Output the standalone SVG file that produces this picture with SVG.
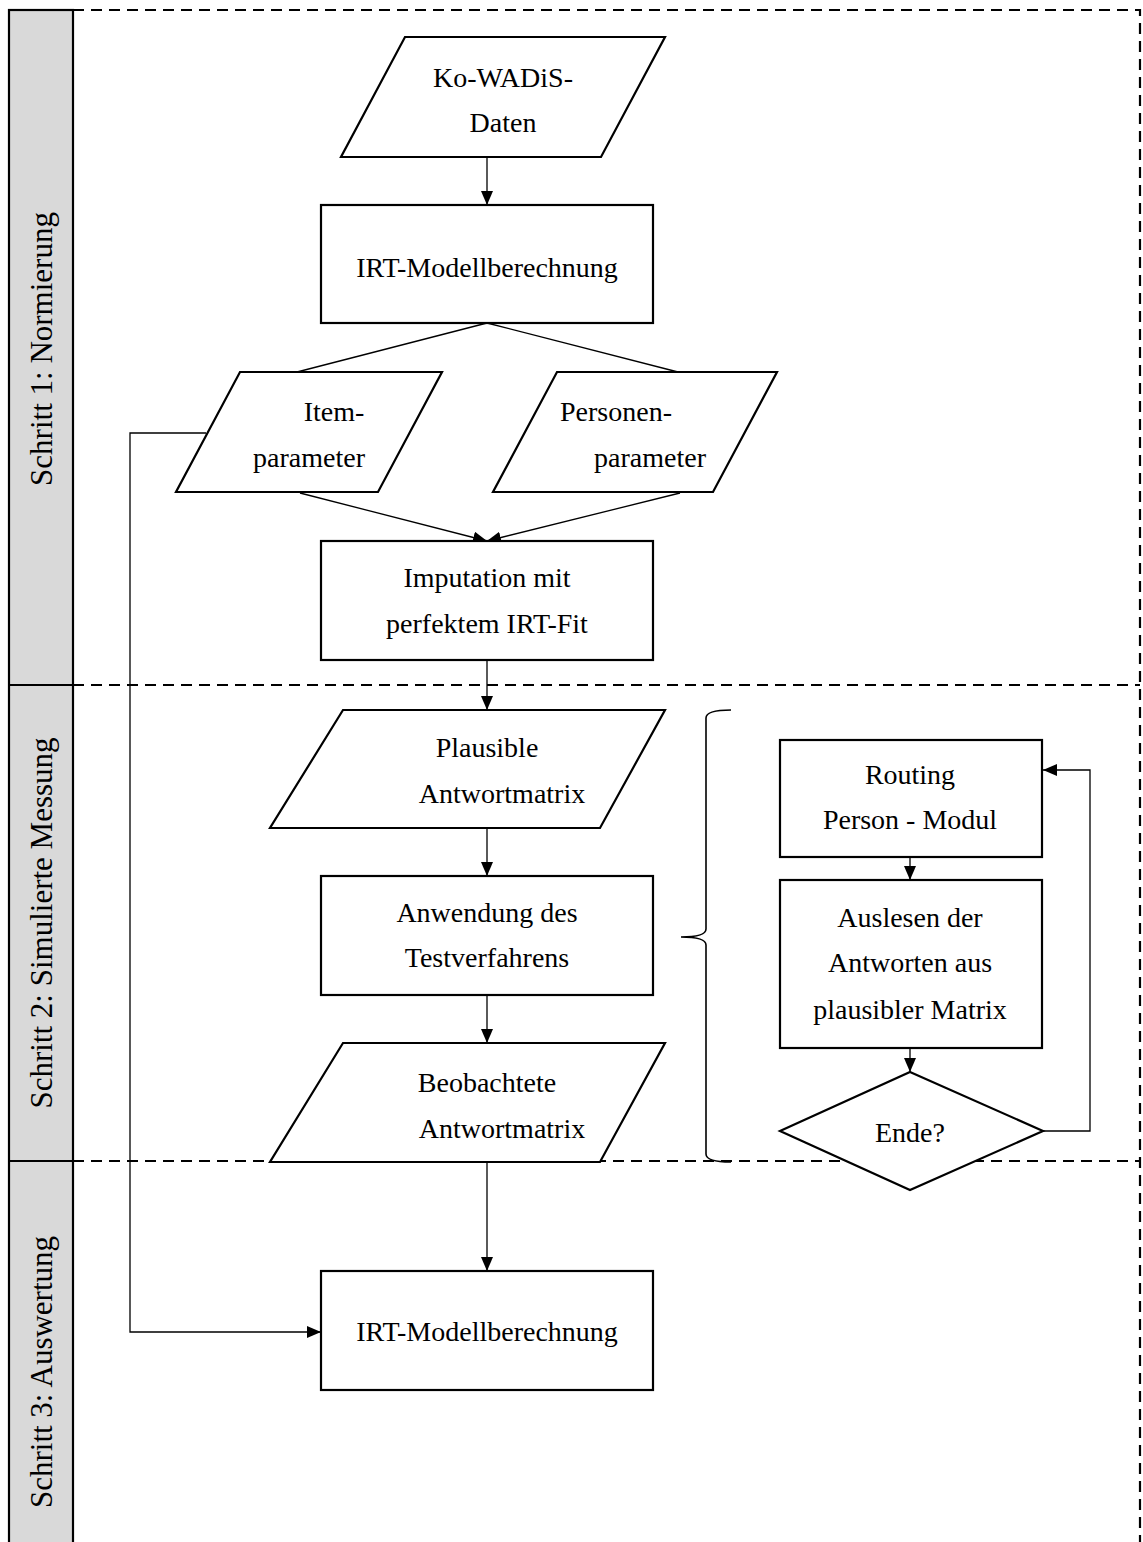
<svg xmlns="http://www.w3.org/2000/svg" width="1143" height="1542" viewBox="0 0 1143 1542">
<style>
.node{fill:#fff;stroke:#000;stroke-width:2.2}
.lane{fill:#d9d9d9;stroke:#000;stroke-width:2.2}
.dash{fill:none;stroke:#000;stroke-width:2.2;stroke-dasharray:11 7}
.con{fill:none;stroke:#000;stroke-width:1.3}
.t{font-family:"Liberation Serif","DejaVu Serif",serif;font-size:28px;fill:#000;text-anchor:middle}
.lt{font-family:"Liberation Serif","DejaVu Serif",serif;font-size:31px;fill:#000;text-anchor:middle}
</style>
<defs>
<marker id="ah" viewBox="0 0 14 12" refX="14" refY="6" markerWidth="14" markerHeight="12" markerUnits="userSpaceOnUse" orient="auto">
<path d="M0,0 L14,6 L0,12 Z" fill="#000"/>
</marker>
</defs>
<g id="lanes">
<rect class="lane" x="9" y="10" width="64" height="1545"/>
<line x1="9" y1="685" x2="73" y2="685" stroke="#000" stroke-width="2.2"/>
<line x1="9" y1="1161" x2="73" y2="1161" stroke="#000" stroke-width="2.2"/>
<path class="dash" d="M73,10 H1140 V1545"/>
<line class="dash" x1="73" y1="685" x2="1140" y2="685"/>
<line class="dash" x1="73" y1="1161" x2="1140" y2="1161"/>
<text class="lt" transform="translate(52,349) rotate(-90)">Schritt 1: Normierung</text>
<text class="lt" transform="translate(52,923) rotate(-90)">Schritt 2: Simulierte Messung</text>
<text class="lt" transform="translate(52,1372) rotate(-90)">Schritt 3: Auswertung</text>
</g>
<g id="connectors">
<line class="con" x1="487" y1="157" x2="487" y2="205" marker-end="url(#ah)"/>
<line class="con" x1="487" y1="323" x2="297" y2="372"/>
<line class="con" x1="487" y1="323" x2="678" y2="372"/>
<line class="con" x1="300" y1="493" x2="487" y2="541" marker-end="url(#ah)"/>
<line class="con" x1="680" y1="493" x2="487" y2="541" marker-end="url(#ah)"/>
<line class="con" x1="487" y1="660" x2="487" y2="710" marker-end="url(#ah)"/>
<line class="con" x1="487" y1="828" x2="487" y2="876" marker-end="url(#ah)"/>
<line class="con" x1="487" y1="995" x2="487" y2="1043" marker-end="url(#ah)"/>
<line class="con" x1="487" y1="1162" x2="487" y2="1271" marker-end="url(#ah)"/>
<path class="con" d="M206,433 H130 V1332 H321" marker-end="url(#ah)"/>
<line class="con" x1="910" y1="857" x2="910" y2="880" marker-end="url(#ah)"/>
<line class="con" x1="910" y1="1048" x2="910" y2="1072" marker-end="url(#ah)"/>
<path class="con" d="M1043,1131 H1090 V770 H1043" marker-end="url(#ah)"/>
<path id="brace" d="M731,710 Q706,710 706,718 V929 Q706,937 681,937 Q706,937 706,945 V1154 Q706,1162 731,1162" fill="none" stroke="#000" stroke-width="1.6"/>
</g>
<g id="n-daten">
<polygon class="node" points="405,37 665,37 601,157 341,157"/>
<text class="t" x="503" y="87">Ko-WADiS-</text>
<text class="t" x="503" y="132">Daten</text>
</g>
<g id="n-irt1">
<rect class="node" x="321" y="205" width="332" height="118"/>
<text class="t" x="487" y="277">IRT-Modellberechnung</text>
</g>
<g id="n-item">
<polygon class="node" points="240,372 442,372 378,492 176,492"/>
<text class="t" x="334" y="421">Item-</text>
<text class="t" x="309" y="467">parameter</text>
</g>
<g id="n-personen">
<polygon class="node" points="557,372 777,372 713,492 493,492"/>
<text class="t" x="616" y="421">Personen-</text>
<text class="t" x="650" y="467">parameter</text>
</g>
<g id="n-imput">
<rect class="node" x="321" y="541" width="332" height="119"/>
<text class="t" x="487" y="587">Imputation mit</text>
<text class="t" x="487" y="633">perfektem IRT-Fit</text>
</g>
<g id="n-plaus">
<polygon class="node" points="343,710 665,710 600,828 270,828"/>
<text class="t" x="487" y="757">Plausible</text>
<text class="t" x="502" y="803">Antwortmatrix</text>
</g>
<g id="n-anw">
<rect class="node" x="321" y="876" width="332" height="119"/>
<text class="t" x="487" y="922">Anwendung des</text>
<text class="t" x="487" y="967">Testverfahrens</text>
</g>
<g id="n-beob">
<polygon class="node" points="343,1043 665,1043 600,1162 270,1162"/>
<text class="t" x="487" y="1092">Beobachtete</text>
<text class="t" x="502" y="1138">Antwortmatrix</text>
</g>
<g id="n-irt2">
<rect class="node" x="321" y="1271" width="332" height="119"/>
<text class="t" x="487" y="1341">IRT-Modellberechnung</text>
</g>
<g id="n-routing">
<rect class="node" x="780" y="740" width="262" height="117"/>
<text class="t" x="910" y="784">Routing</text>
<text class="t" x="910" y="829">Person - Modul</text>
</g>
<g id="n-auslesen">
<rect class="node" x="780" y="880" width="262" height="168"/>
<text class="t" x="910" y="927">Auslesen der</text>
<text class="t" x="910" y="972">Antworten aus</text>
<text class="t" x="910" y="1019">plausibler Matrix</text>
</g>
<g id="n-ende">
<polygon class="node" points="910,1072 1043,1131 910,1190 780,1131"/>
<text class="t" x="910" y="1142">Ende?</text>
</g>
</svg>
